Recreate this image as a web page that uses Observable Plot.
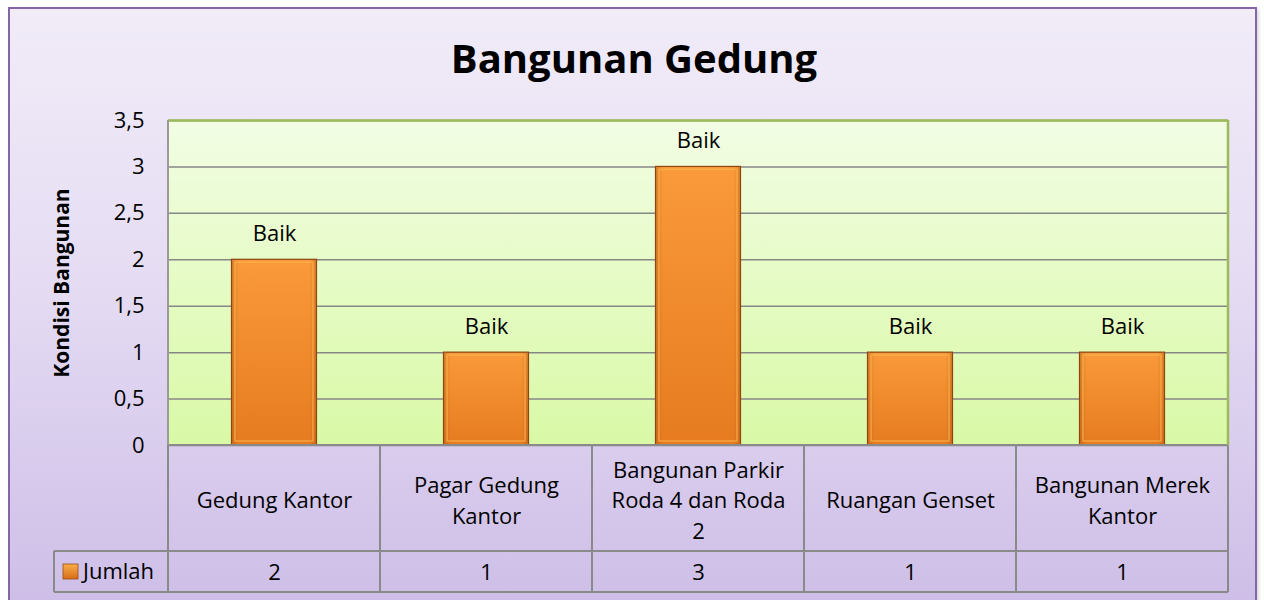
<!DOCTYPE html>
<html>
<head>
<meta charset="utf-8">
<script src="https://cdn.jsdelivr.net/npm/d3@7"></script>
<script src="https://cdn.jsdelivr.net/npm/@observablehq/plot@0.6"></script>
<style>
  html, body { margin: 0; padding: 0; background: #fff; }
  #wrap { position: relative; width: 1264px; height: 600px; overflow: hidden; font-family: "Open Sans", Lato, sans-serif; }
  #bg { position: absolute; left: 8px; top: 7px; width: 1249px; height: 610px;
        border: 2px solid #8466a8; box-sizing: border-box;
        background: linear-gradient(to bottom, #f1ecf8 0%, #e5dcf3 45%, #cdbde7 100%);
        box-shadow: 2px 2px 3px rgba(0,0,0,0.15); }
  #title { position: absolute; left: 0; top: 30px; width: 1268px; text-align: center;
           font: bold 40px "Open Sans", Lato, sans-serif; color: #000; }
  #chart { position: absolute; left: 0; top: 0; }
  #chart svg { background: transparent !important; overflow: visible; }
</style>
</head>
<body>
<div id="wrap">
  <div id="bg"></div>
  <div id="chart"></div>
  <div id="title">Bangunan Gedung</div>
</div>
<script>
// ---- data ----
const categories = ["Gedung Kantor", "Pagar Gedung Kantor", "Bangunan Parkir Roda 4 dan Roda 2", "Ruangan Genset", "Bangunan Merek Kantor"];
const categoryLabels = ["Gedung Kantor", "Pagar Gedung\nKantor", "Bangunan Parkir\nRoda 4 dan Roda\n2", "Ruangan Genset", "Bangunan Merek\nKantor"];
const values = [2, 1, 3, 1, 1];
const statusLabels = ["Baik", "Baik", "Baik", "Baik", "Baik"];
const yTicks = [0, 0.5, 1, 1.5, 2, 2.5, 3, 3.5];
const seriesName = "Jumlah";
const yLabel = "Kondisi Bangunan";

const data = categories.map((c, i) => ({cat: c, label: categoryLabels[i], value: values[i], status: statusLabels[i]}));
const fmt = d => String(d).replace(".", ",");
const FONT = "'Open Sans', Lato, sans-serif";
const FS = 22;

const plot = Plot.plot({
  width: 1264,
  height: 600,
  marginLeft: 168,
  marginRight: 36,
  marginTop: 120,
  marginBottom: 155,
  style: {fontFamily: FONT, fontSize: FS + "px", color: "#000", background: "transparent", overflow: "visible"},
  x: {domain: categories, padding: 0, axis: null},
  y: {domain: [0, 3.5], ticks: yTicks, tickFormat: fmt},
  marks: [
    Plot.frame({fill: "url(#plotGrad)", stroke: "none"}),
    Plot.gridY(yTicks, {stroke: "#878787", strokeOpacity: 1, strokeWidth: 1.5}),
    Plot.ruleY([3.5], {stroke: "#9bbb59", strokeWidth: 2.5}),
    Plot.axisY(yTicks, {tickSize: 0, tickPadding: 24, tickFormat: fmt, fontSize: FS, label: null}),
    Plot.barY(data, {x: "cat", y: "value", fill: "url(#barGrad)", stroke: "#8f4510", strokeWidth: 1.2,
      insetLeft: 63.5, insetRight: 63.5}),
    Plot.barY(data, {x: "cat", y: "value", fill: "url(#sideGrad)", stroke: "none",
      insetLeft: 64, insetRight: 64, insetTop: 0.5, insetBottom: 0.5}),
    Plot.barY(data, {x: "cat", y: "value", fill: "none", stroke: "#fbb34f", strokeWidth: 1.5, strokeOpacity: 0.7,
      insetLeft: 67, insetRight: 67, insetTop: 3, insetBottom: 4}),
    Plot.text(data, {x: "cat", y: "value", text: "status", dy: -26, fontSize: FS, fill: "#000"}),
    Plot.text(data, {x: "cat", y: 0, text: "label", dy: 53, fontSize: FS, lineHeight: 1.4, fill: "#000"}),
    Plot.text(data, {x: "cat", y: 0, text: d => String(d.value), dy: 127, fontSize: FS, fill: "#000"}),
    Plot.text([yLabel], {frameAnchor: "left", textAnchor: "middle", text: d => d, rotate: -90, dx: -106,
      fontSize: 21, fontWeight: "bold", fill: "#000"})
  ]
});

document.getElementById("chart").appendChild(plot);

// gradients + data table structure
const svg = d3.select(plot);
const defs = svg.insert("defs", ":first-child");
const pg = defs.append("linearGradient").attr("id", "plotGrad").attr("x1", 0).attr("y1", 0).attr("x2", 0).attr("y2", 1);
pg.append("stop").attr("offset", "0%").attr("stop-color", "#f2fde4");
pg.append("stop").attr("offset", "100%").attr("stop-color", "#d9f9a6");
const bg = defs.append("linearGradient").attr("id", "barGrad").attr("x1", 0).attr("y1", 0).attr("x2", 0).attr("y2", 1);
bg.append("stop").attr("offset", "0%").attr("stop-color", "#fa9a3a");
bg.append("stop").attr("offset", "100%").attr("stop-color", "#e67b20");
const sg = defs.append("linearGradient").attr("id", "sideGrad").attr("x1", 0).attr("y1", 0).attr("x2", 1).attr("y2", 0);
sg.append("stop").attr("offset", "0%").attr("stop-color", "#a0500f").attr("stop-opacity", 0.35);
sg.append("stop").attr("offset", "8%").attr("stop-color", "#a0500f").attr("stop-opacity", 0);
sg.append("stop").attr("offset", "92%").attr("stop-color", "#a0500f").attr("stop-opacity", 0);
sg.append("stop").attr("offset", "100%").attr("stop-color", "#a0500f").attr("stop-opacity", 0.35);
const lg = defs.append("linearGradient").attr("id", "legGrad").attr("x1", 0).attr("y1", 0).attr("x2", 0).attr("y2", 1);
lg.append("stop").attr("offset", "0%").attr("stop-color", "#fbae4a");
lg.append("stop").attr("offset", "100%").attr("stop-color", "#d56c17");

const xs = plot.scale("x");
const ys = plot.scale("y");
const bw = xs.bandwidth;
const left = xs.apply(categories[0]);
const right = xs.apply(categories[categories.length - 1]) + bw;
const y0 = ys.apply(0);
const yTop = ys.apply(3.5);
const row1 = y0 + 106;
const row2 = row1 + 41;
const tableLeft = 54;
const g = svg.append("g").attr("stroke", "#8a8a8a").attr("stroke-width", 2).attr("fill", "none");

// plot-area edges
svg.append("line").attr("x1", right).attr("x2", right).attr("y1", yTop).attr("y2", y0)
  .attr("stroke", "#9bbb59").attr("stroke-width", 2.5);
svg.append("line").attr("x1", left).attr("x2", left).attr("y1", yTop).attr("y2", y0)
  .attr("stroke", "#9a9a9a").attr("stroke-width", 2);

// column separators
categories.forEach(c => {
  const x = xs.apply(c);
  g.append("line").attr("x1", x).attr("x2", x).attr("y1", y0).attr("y2", row2);
});
g.append("line").attr("x1", right).attr("x2", right).attr("y1", y0).attr("y2", row2);
g.append("line").attr("x1", left).attr("x2", right).attr("y1", y0).attr("y2", y0);
g.append("line").attr("x1", tableLeft).attr("x2", right).attr("y1", row1).attr("y2", row1);
g.append("line").attr("x1", tableLeft).attr("x2", right).attr("y1", row2).attr("y2", row2);
g.append("line").attr("x1", tableLeft).attr("x2", tableLeft).attr("y1", row1).attr("y2", row2);

// legend key in table
const midRow2 = (row1 + row2) / 2;
svg.append("rect").attr("x", tableLeft + 9).attr("y", midRow2 - 7.5).attr("width", 15).attr("height", 15)
  .attr("fill", "url(#legGrad)").attr("stroke", "#9a4d12").attr("stroke-width", 0.8);
svg.append("text").attr("x", tableLeft + 29).attr("y", midRow2).attr("dy", "0.35em")
  .attr("text-anchor", "start")
  .attr("font-size", FS).attr("font-family", FONT).attr("fill", "#000").text(seriesName);
</script>
</body>
</html>
